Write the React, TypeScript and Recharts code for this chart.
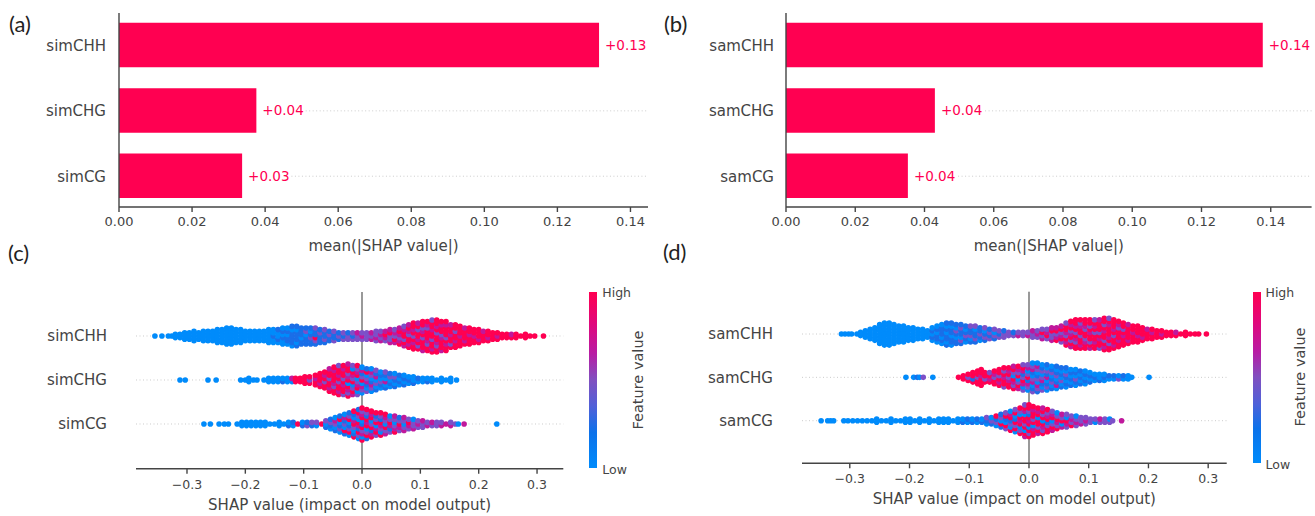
import { BarChart, Bar, ScatterChart, Scatter, XAxis, YAxis, ReferenceLine, LabelList } from "recharts";

const FONT = "'DejaVu Sans', sans-serif";
const PINK = "#ff0051";
const INK = "#444";

const barRows = [0, 1, 2];
const swarmRows = [2, 1, 0];
const simCategories = ["simCHH", "simCHG", "simCG"];
const samCategories = ["samCHH", "samCHG", "samCG"];
const simMeanShap = [0.1314, 0.0376, 0.0337];
const samMeanShap = [0.1377, 0.043, 0.0352];
const barTicks = [0, 0.02, 0.04, 0.06, 0.08, 0.1, 0.12, 0.14];
const swarmTicks = [-0.3, -0.2, -0.1, 0, 0.1, 0.2, 0.3];

// feature value level of each dot: b low, d, v, m, p high
const levelColors: Record<string, string> = { b: "#008bfb", d: "#1a6ee8", v: "#7c50c8", m: "#c0189c", p: "#ff0051" };

type Stack = [number, string];

const simChhStacks: Stack[] = [
  [-0.355, "b"], [-0.343, "b"], [-0.332, "b"], [-0.326, "b"], [-0.32, "bb"], [-0.312, "bb"], [-0.304, "bbb"], [-0.296, "bbb"],
  [-0.288, "bbbb"], [-0.28, "bbb"], [-0.272, "bbbb"], [-0.264, "bbbb"], [-0.256, "bbbb"], [-0.248, "bbbbb"], [-0.24, "bbbbb"],
  [-0.232, "bbbbbb"], [-0.224, "bbbbbb"], [-0.216, "bbbbb"], [-0.208, "bbbbb"], [-0.2, "bbbb"], [-0.192, "bbbb"], [-0.184, "bbbb"],
  [-0.176, "bbbb"], [-0.168, "bbbb"], [-0.16, "bbbbb"], [-0.152, "bbdbb"], [-0.144, "bdbbd"], [-0.136, "bbdbdb"], [-0.128, "bddbdb"],
  [-0.12, "bddddbd"], [-0.112, "dbdddbd"], [-0.104, "ddbddd"], [-0.096, "dddbvd"], [-0.088, "ddvdbd"], [-0.08, "dvpddv"], [-0.072, "dddvd"],
  [-0.064, "dvddv"], [-0.056, "ddvd"], [-0.048, "vddv"], [-0.04, "dvd"], [-0.032, "vdv"], [-0.024, "vvd"], [-0.016, "vdv"], [-0.008, "vvm"],
  [0, "vmv"], [0.008, "vvv"], [0.016, "mvm"], [0.024, "vmvv"], [0.032, "mvmv"], [0.04, "vmpm"], [0.048, "mvvpm"], [0.056, "mpvmv"],
  [0.064, "pmvmpm"], [0.072, "mpvppmv"], [0.08, "pmppvmpm"], [0.088, "ppmpvpmpp"], [0.096, "pvpmppvpm"], [0.104, "mpppvpmvpp"], [0.112, "ppvmpppvmp"],
  [0.12, "pmppvppmppv"], [0.128, "ppvmppvpmpp"], [0.136, "mpppmvppmp"], [0.144, "ppmpvpppmp"], [0.152, "pvppmppm"], [0.16, "ppmppvpp"], [0.168, "pppmppp"],
  [0.176, "pmpppm"], [0.184, "pppmpp"], [0.192, "ppmpp"], [0.2, "pmppp"], [0.208, "pppm"], [0.216, "pmpp"], [0.224, "ppp"], [0.232, "pmp"],
  [0.24, "pp"], [0.248, "pp"], [0.256, "pm"], [0.264, "pp"], [0.272, "p"], [0.28, "pp"], [0.288, "p"], [0.296, "p"], [0.311, "p"],
];

const simChgStacks: Stack[] = [
  [-0.312, "b"], [-0.303, "b"], [-0.264, "b"], [-0.25, "b"], [-0.208, "b"], [-0.2, "b"], [-0.194, "bb"], [-0.186, "b"], [-0.18, "b"],
  [-0.168, "b"], [-0.16, "bb"], [-0.152, "bb"], [-0.144, "bb"], [-0.136, "db"], [-0.128, "bb"], [-0.12, "bm"], [-0.114, "pp"], [-0.106, "pp"],
  [-0.098, "ppp"], [-0.09, "pvp"], [-0.08, "ppmp"], [-0.072, "pmppp"], [-0.064, "ppvpmp"], [-0.056, "pmppvppm"], [-0.048, "ppvmpppmp"],
  [-0.04, "pmppvpmppv"], [-0.032, "vppmpvppmp"], [-0.024, "pvmpbpmvppm"], [-0.016, "mpvbpvmpbv"], [-0.008, "vbpmvbpmvp"], [0, "bvmbpvdmb"],
  [0.008, "vbdmvbpd"], [0.016, "bvmdbvmb"], [0.024, "dbvbmdv"], [0.032, "bdvbdb"], [0.04, "dbmbdv"], [0.048, "bdbvd"], [0.056, "dbdvb"],
  [0.064, "bdbd"], [0.072, "dbdb"], [0.08, "bdb"], [0.088, "dbb"], [0.096, "bd"], [0.104, "bb"], [0.112, "db"], [0.12, "bb"],
  [0.128, "b"], [0.136, "bb"], [0.144, "b"], [0.152, "bb"], [0.162, "b"],
];

const simCgStacks: Stack[] = [
  [-0.271, "b"], [-0.26, "b"], [-0.245, "b"], [-0.236, "b"], [-0.229, "b"], [-0.214, "b"], [-0.206, "bb"], [-0.198, "bb"], [-0.19, "bb"],
  [-0.182, "bb"], [-0.174, "bb"], [-0.166, "bb"], [-0.158, "b"], [-0.15, "b"], [-0.142, "bb"], [-0.134, "b"], [-0.126, "db"], [-0.118, "bd"],
  [-0.11, "p"], [-0.102, "db"], [-0.094, "vd"], [-0.086, "dv"], [-0.078, "bv"], [-0.069, "p"], [-0.062, "dbv"], [-0.054, "bdvd"], [-0.046, "dbvmb"],
  [-0.038, "bvdbpd"], [-0.03, "dpbvdmb"], [-0.022, "bpvdbpvd"], [-0.014, "pdbvpmbdp"], [-0.006, "bvpdmpbvpd"], [0, "pbmvpdbpmvp"], [0.008, "dpvbpmpdvp"],
  [0.016, "pmdpvbpmp"], [0.024, "vpmbpvdp"], [0.032, "pbvmpdvp"], [0.04, "mvpbvmp"], [0.048, "vdmpvb"], [0.056, "pmvbvm"], [0.064, "vmpvd"],
  [0.072, "mvbvm"], [0.08, "vmpv"], [0.088, "mvvb"], [0.096, "vmv"], [0.104, "vvm"], [0.112, "mv"], [0.12, "vm"], [0.128, "vv"], [0.136, "mv"],
  [0.144, "m"], [0.152, "mv"], [0.16, "v"], [0.165, "b"], [0.175, "m"], [0.231, "b"],
];

const samChhStacks: Stack[] = [
  [-0.314, "b"], [-0.308, "b"], [-0.302, "b"], [-0.297, "b"], [-0.288, "b"], [-0.282, "bb"], [-0.274, "bbb"], [-0.266, "bbbb"], [-0.258, "bbbbb"],
  [-0.25, "bbbbbbb"], [-0.242, "bbbbbbbb"], [-0.234, "bbbbbbbb"], [-0.226, "bbbbbbb"], [-0.218, "bbbbbb"], [-0.21, "bbbbbb"], [-0.202, "bbbbb"],
  [-0.194, "bbbbb"], [-0.186, "bbbb"], [-0.178, "bbbb"], [-0.17, "bbb"], [-0.162, "bdbdb"], [-0.154, "bddbdb"], [-0.146, "bdbdddb"], [-0.138, "dbddbdbd"],
  [-0.13, "bddbddbd"], [-0.122, "ddbdvbd"], [-0.114, "dvbddvd"], [-0.106, "bdvdbd"], [-0.098, "dbvddv"], [-0.09, "dvddbv"], [-0.082, "bdvdd"],
  [-0.074, "dvdbv"], [-0.066, "vdvd"], [-0.058, "dvbv"], [-0.05, "vdv"], [-0.042, "vvd"], [-0.034, "vv"], [-0.026, "vd"], [-0.018, "mv"], [-0.01, "vv"],
  [-0.002, "mv"], [0.006, "vvm"], [0.014, "vmv"], [0.022, "mvpv"], [0.03, "vpmv"], [0.038, "mvvpm"], [0.046, "pmvpm"], [0.054, "vpmvpm"],
  [0.062, "pmpvmppv"], [0.07, "mpvpmvpmp"], [0.078, "ppvmpvpmpp"], [0.086, "pmppvppmvp"], [0.094, "ppmvppvmpp"], [0.102, "mpvppmpvpp"], [0.11, "ppmppvpmpv"],
  [0.118, "vppmpvpppm"], [0.126, "pmpvppmpvpp"], [0.134, "ppvpmpppmpv"], [0.142, "pmppvpmppp"], [0.15, "ppmpppvmp"], [0.158, "pppmpvpp"], [0.166, "pmppppm"],
  [0.174, "pppmpp"], [0.182, "ppmppp"], [0.19, "pmppp"], [0.198, "pppm"], [0.206, "ppmp"], [0.214, "ppp"], [0.222, "pmp"], [0.23, "pp"], [0.238, "pp"],
  [0.246, "pm"], [0.254, "p"], [0.262, "pp"], [0.27, "p"], [0.278, "p"], [0.284, "p"], [0.297, "p"],
];

const samChgStacks: Stack[] = [
  [-0.206, "b"], [-0.193, "b"], [-0.187, "d"], [-0.183, "b"], [-0.177, "v"], [-0.161, "b"], [-0.118, "p"], [-0.11, "pp"], [-0.102, "pvp"], [-0.094, "pdpp"],
  [-0.086, "ppvpp"], [-0.08, "pppmpp"], [-0.074, "pvpp"], [-0.066, "pmpv"], [-0.058, "ppvmp"], [-0.05, "pmpvpp"], [-0.042, "vppmpvp"], [-0.034, "ppmvpmp"],
  [-0.026, "pvmpbvpm"], [-0.018, "mpvbpvmp"], [-0.01, "vbmpvdmpv"], [-0.002, "bvmdpvbmv"], [0.006, "vdbmvbdmvb"], [0.014, "dvmbvdbvmb"], [0.022, "vbdmvbvdb"],
  [0.03, "bvdbmdvbd"], [0.038, "dbvdbvdb"], [0.046, "bmdbvdbd"], [0.054, "dbvbdbd"], [0.062, "bdbdvbd"], [0.07, "dbdbdb"], [0.078, "bdvbdb"], [0.086, "dbdbd"],
  [0.094, "bdbdb"], [0.102, "dbdb"], [0.11, "bdb"], [0.118, "dbb"], [0.126, "bdb"], [0.134, "bd"], [0.142, "bd"], [0.15, "vb"], [0.158, "bd"], [0.166, "bb"],
  [0.172, "b"], [0.201, "b"],
];

const samCgStacks: Stack[] = [
  [-0.348, "b"], [-0.337, "b"], [-0.332, "b"], [-0.327, "b"], [-0.31, "b"], [-0.303, "b"], [-0.295, "b"], [-0.287, "b"], [-0.279, "b"], [-0.271, "b"], [-0.263, "b"],
  [-0.255, "bb"], [-0.247, "b"], [-0.239, "b"], [-0.231, "bb"], [-0.223, "b"], [-0.215, "b"], [-0.207, "bb"], [-0.199, "bb"], [-0.191, "b"], [-0.183, "bb"], [-0.175, "b"],
  [-0.167, "bb"], [-0.159, "b"], [-0.151, "bb"], [-0.143, "bb"], [-0.135, "bb"], [-0.127, "b"], [-0.119, "bb"], [-0.111, "db"], [-0.103, "bd"], [-0.095, "db"], [-0.087, "bd"],
  [-0.079, "db"], [-0.071, "bdv"], [-0.063, "dvb"], [-0.055, "bvdp"], [-0.047, "dpbvd"], [-0.039, "vpbdpv"], [-0.031, "pbvdpmb"], [-0.023, "bpvpdbpv"], [-0.015, "pvbpmpbvp"],
  [-0.007, "mpbpvppbmpv"], [0, "pvpbpmpdvpp"], [0.007, "ppmbpvppmp"], [0.015, "mpvppbpmp"], [0.023, "pvmpbpvpm"], [0.031, "ppvdpmvp"], [0.039, "mpvbpmv"], [0.047, "pvmpvb"],
  [0.055, "mbpvm"], [0.063, "vmpbv"], [0.071, "pvmv"], [0.079, "vmvb"], [0.087, "mvv"], [0.095, "vmv"], [0.103, "vv"], [0.111, "bv"], [0.119, "vm"], [0.127, "vv"], [0.135, "vb"],
  [0.14, "v"], [0.155, "m"],
];

type Dot = { x: number; y: number; level: string };

// each stack is one column of the swarm, its dots sit side by side around the row
function stacksToDots(stacks: Stack[], row: number): Dot[] {
  return stacks.flatMap(([x, levels]) =>
    levels.split("").map((level, i) => ({ x, y: row + (i - (levels.length - 1) / 2) * 0.073, level }))
  );
}

const SwarmDot = (props: any) => <circle cx={props.cx} cy={props.cy} r={2.8} fill={levelColors[props.payload.level]} />;

const nameStyle = { fontSize: 15, fontFamily: FONT, fill: INK };
const titleStyle = { fontSize: 15, fontFamily: FONT, fill: INK };

function BarPanel(p: {
  left: number; width: number; axisWidth: number; marginRight: number; xMax: number;
  categories: string[]; values: number[]; nameMargin: number; labelGap: number;
}) {
  const data = p.categories.map((name, i) => ({ name, row: barRows[i], value: p.values[i] }));
  return (
    <div style={{ position: "absolute", left: p.left, top: 0 }}>
      <BarChart width={p.width} height={260} data={data} layout="vertical" margin={{ top: 13, right: p.marginRight, bottom: 0, left: 0 }}>
        <XAxis type="number" dataKey="value" domain={[0, p.xMax]} ticks={barTicks} interval={0} height={53} tickSize={5} tickMargin={5}
          tickFormatter={(v: number) => v.toFixed(2)} tick={{ fontSize: 13, fontFamily: FONT, fill: INK }} stroke="#444" strokeWidth={1.4}
          label={{ value: "mean(|SHAP value|)", position: "insideBottom", offset: 9, style: titleStyle }} />
        <YAxis type="number" dataKey="row" domain={[-0.497, 2.471]} ticks={barRows} interval={0} width={p.axisWidth} tickLine={false} tickSize={0}
          tickMargin={p.nameMargin} tickFormatter={(v: number) => p.categories[v]} tick={nameStyle} stroke="#444" strokeWidth={1.4} />
        {data.filter(d => d.value + p.labelGap < p.xMax).map(d => (
          <ReferenceLine key={d.row} segment={[{ x: d.value + p.labelGap, y: d.row }, { x: p.xMax, y: d.row }]} stroke="#ccc" strokeDasharray="1 2.5" />
        ))}
        <Bar dataKey="value" fill={PINK} barSize={44.5} isAnimationActive={false}>
          <LabelList dataKey="value" position="right" offset={6} fill={PINK} fontSize={13.5} fontFamily={FONT}
            formatter={(v: any) => `+${Number(v).toFixed(2)}`} />
        </Bar>
      </BarChart>
    </div>
  );
}

function SwarmPanel(p: {
  left: number; width: number; top: number; height: number; plotTop: number; axisHeight: number; axisWidth: number; marginRight: number;
  xDomain: number[]; yDomain: number[]; categories: string[]; stacks: Stack[][]; nameMargin: number; titleOffset: number;
}) {
  return (
    <div style={{ position: "absolute", left: p.left, top: p.top }}>
      <ScatterChart width={p.width} height={p.height} margin={{ top: p.plotTop, right: p.marginRight, bottom: 0, left: 0 }}>
        <XAxis type="number" dataKey="x" domain={p.xDomain} ticks={swarmTicks} interval={0} height={p.axisHeight} tickSize={5} tickMargin={6} allowDataOverflow
          tickFormatter={(v: number) => (v < 0 ? `\u2212${Math.abs(v).toFixed(1)}` : v.toFixed(1))} tick={{ fontSize: 12.5, fontFamily: FONT, fill: INK }} stroke="#444" strokeWidth={1.4}
          label={{ value: "SHAP value (impact on model output)", position: "insideBottom", offset: p.titleOffset, style: titleStyle }} />
        <YAxis type="number" dataKey="y" domain={p.yDomain} ticks={swarmRows} interval={0} width={p.axisWidth} axisLine={false} tickLine={false} tickSize={0}
          tickMargin={p.nameMargin} tickFormatter={(v: number) => p.categories[2 - v]} tick={nameStyle} allowDataOverflow />
        {swarmRows.map(r => <ReferenceLine key={r} y={r} stroke="#ccc" strokeDasharray="1 2.5" />)}
        <ReferenceLine x={0} stroke="#999" strokeWidth={2} />
        {p.stacks.map((stacks, i) => (
          <Scatter key={i} data={stacksToDots(stacks, swarmRows[i])} shape={SwarmDot} isAnimationActive={false} />
        ))}
      </ScatterChart>
    </div>
  );
}

function ColorBar(p: { left: number; top: number; bottom: number; width: number; titleX: number }) {
  const label = { position: "absolute" as const, left: p.left + p.width + 5, fontSize: 12.5, fontFamily: FONT, color: INK, lineHeight: "14px" };
  return (
    <>
      <div style={{
        position: "absolute", left: p.left, top: p.top, width: p.width, height: p.bottom - p.top,
        background: "linear-gradient(to top, #008bfb 0%, #0c72ea 20%, #5060d8 35%, #8050c0 50%, #b81ca4 65%, #e0087c 82%, #ff0051 100%)",
      }} />
      <div style={{ ...label, top: p.top - 6 }}>High</div>
      <div style={{ ...label, top: p.bottom - 5 }}>Low</div>
      <div style={{
        position: "absolute", left: p.titleX, top: (p.top + p.bottom) / 2, fontSize: 14.5, fontFamily: FONT, color: INK,
        whiteSpace: "nowrap", transform: "translate(-50%, -50%) rotate(-90deg)",
      }}>Feature value</div>
    </>
  );
}

function PanelLetter(p: { text: string; left: number; top: number }) {
  return <div style={{ position: "absolute", left: p.left, top: p.top, fontSize: 22, fontFamily: "Lato, sans-serif", color: "#222", lineHeight: "26px" }}>{p.text}</div>;
}

export default function App() {
  return (
    <div style={{ position: "absolute", left: 0, top: 0, width: 1315, height: 516, background: "#fff", overflow: "hidden" }}>
      <BarPanel left={0} width={660} axisWidth={119} marginRight={12} xMax={0.1448} categories={simCategories} values={simMeanShap} nameMargin={13} labelGap={0.0135} />
      <BarPanel left={660} width={655} axisWidth={126} marginRight={3.4} xMax={0.1518} categories={samCategories} values={samMeanShap} nameMargin={12} labelGap={0.0145} />
      <SwarmPanel left={0} width={660} top={260} height={256} plotTop={32} axisHeight={47.3} axisWidth={136} marginRight={96.7} titleOffset={6}
        xDomain={[-0.3874, 0.345]} yDomain={[-1.016, 3]} categories={simCategories} stacks={[simChhStacks, simChgStacks, simCgStacks]} nameMargin={29} />
      <SwarmPanel left={660} width={655} top={260} height={256} plotTop={31.7} axisHeight={52.7} axisWidth={142} marginRight={88.3} titleOffset={12}
        xDomain={[-0.38, 0.331]} yDomain={[-0.983, 2.976]} categories={samCategories} stacks={[samChhStacks, samChgStacks, samCgStacks]} nameMargin={29} />
      <ColorBar left={589.3} top={292} bottom={467.7} width={8} titleX={638} />
      <ColorBar left={1253} top={291.7} bottom={462.7} width={7.5} titleX={1300} />
      <PanelLetter text="(a)" left={9} top={11} />
      <PanelLetter text="(b)" left={664} top={11} />
      <PanelLetter text="(c)" left={8} top={240} />
      <PanelLetter text="(d)" left={663} top={239} />
    </div>
  );
}
